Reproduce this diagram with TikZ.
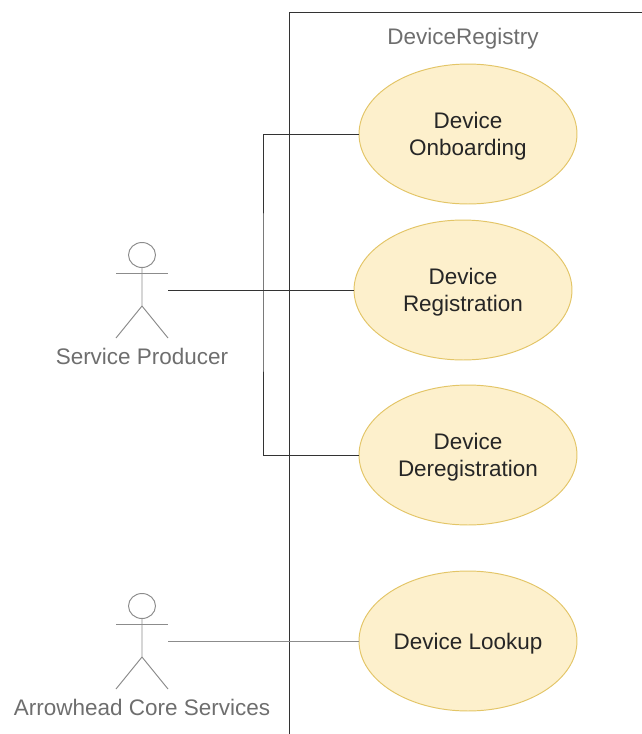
\documentclass[tikz,border=0pt]{standalone}
\usepackage{fontspec}
\setmainfont{Liberation Sans}
\usepackage{tikz}
\usetikzlibrary{shapes.geometric,positioning}
\definecolor{usecasefill}{HTML}{FDF0CC}
\definecolor{usecaseline}{HTML}{E3C567}
\definecolor{labelgray}{HTML}{6E6E6E}
\definecolor{actorgray}{HTML}{8C8C8C}
\begin{document}
\begin{tikzpicture}[
		x=0.02cm,y=-0.02cm,
		line width=0.55pt,
		usecase/.style={
			draw=usecaseline,
			fill=usecasefill,
			ellipse,
			minimum width=4.36cm,
			minimum height=2.8cm,
			inner sep=0pt,
			align=center,
			text=black!85,
			text depth=0pt,
			font=\fontsize{12.8}{15.6}\selectfont
		},
		actor/.style={
			rectangle,
			minimum width=1.04cm,
			minimum height=1.92cm,
			inner sep=0pt
		},
		caption/.style={
			text=labelgray,
			inner sep=0pt,
			font=\fontsize{12.8}{15.6}\selectfont
		},
		link/.style={draw=black!80},
		stickman/.pic={
			\draw[actorgray] (0,-35) ellipse [x radius=13.5,y radius=12.5];
			\draw[actorgray] (0,-22.5) -- (0,16) -- (-26,48);
			\draw[actorgray] (0,16) -- (26,48);
			\draw[actorgray] (-26,-17) -- (26,-17);
		}
		]
		\useasboundingbox (0,0) rectangle (642,734);
		% System boundary
		\coordinate (BoundTop) at (289,12);
		\coordinate (BoundEnd) at (642,12);
		\coordinate (BoundLow) at (289,734);
		\draw[link] (BoundEnd) -- (BoundTop) -- (BoundLow);
		\node[caption] (Registry) at (463,39) {DeviceRegistry};
		
		% Use cases
		\node[usecase] (Onboarding) at (468,134) {Device\\Onboarding};
		\node[usecase] (Registration) at (463,290) {Device\\Registration};
		\node[usecase] (Deregistration) at (468,455) {Device\\Deregistration};
		\node[usecase] (Lookup) at (468,641) {Device Lookup};
		
		% Actors
		\node[actor] (Producer) at (142,290) {};
		\node[actor] (Core) at (142,641) {};
		\pic at (Producer) {stickman};
		\pic at (Core) {stickman};
		\node[caption] (ProducerText) at (142,356) {Service Producer};
		\node[caption] (CoreText) at (142,707) {Arrowhead Core Services};
		
		% Connectors
		\coordinate (Bus) at (263,290);
		\draw[link] (Producer.east) -- (Registration.west);
		\draw[link] (Onboarding.west) -| (Bus) |- (Deregistration.west);
		\draw[draw=black!45] (Core.east) -- (Lookup.west);
	\end{tikzpicture}
\end{document}
